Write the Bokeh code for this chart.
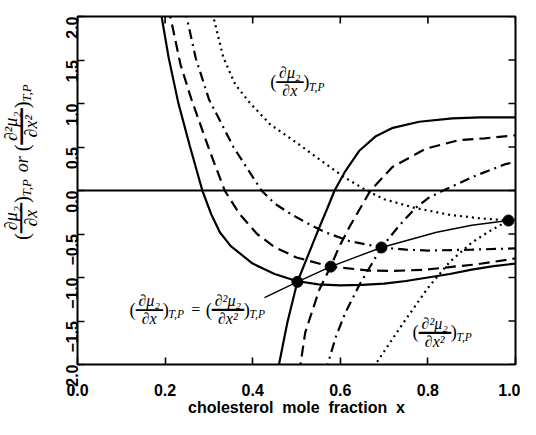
import math
from bokeh.plotting import figure
from bokeh.models import Span, Label
from bokeh.layouts import row
from bokeh.embed import file_html
from bokeh.resources import INLINE

# ---------------- data ----------------
x_ticks = [0.0, 0.2, 0.4, 0.6, 0.8, 1.0]
x_tick_labels = ["0.0", "0.2", "0.4", "0.6", "0.8", "1.0"]
y_ticks = [-2.0, -1.5, -1.0, -0.5, 0.0, 0.5, 1.0, 1.5, 2.0]
y_tick_labels = ["\u22122.0", "\u22121.5", "\u22121.0", "\u22120.5", "0.0", "0.5", "1.0", "1.5", "2.0"]

# first derivative (d mu2 / dx) at four temperatures
d1_solid_x = [0.188, 0.192, 0.208, 0.230, 0.256, 0.285, 0.305, 0.325, 0.35, 0.40, 0.45, 0.50, 0.55, 0.60, 0.65, 0.70, 0.75, 0.80, 0.85, 0.90, 0.95, 1.0]
d1_solid_y = [2.1, 2.0, 1.53, 1.01, 0.52, 0.0, -0.27, -0.48, -0.64, -0.84, -0.96, -1.04, -1.08, -1.09, -1.085, -1.07, -1.04, -1.0, -0.96, -0.91, -0.87, -0.84]

d1_dashed_x = [0.208, 0.212, 0.235, 0.26, 0.30, 0.336, 0.37, 0.41, 0.45, 0.50, 0.578, 0.667, 0.72, 0.795, 0.85, 0.909, 0.95, 1.0]
d1_dashed_y = [2.1, 2.0, 1.45, 1.05, 0.48, 0.0, -0.27, -0.50, -0.65, -0.77, -0.875, -0.92, -0.925, -0.91, -0.88, -0.85, -0.82, -0.78]

d1_dashdot_x = [0.245, 0.249, 0.27, 0.30, 0.356, 0.42, 0.45, 0.49, 0.53, 0.566, 0.62, 0.694, 0.75, 0.80, 0.90, 1.0]
d1_dashdot_y = [2.1, 2.0, 1.52, 1.05, 0.50, 0.0, -0.15, -0.28, -0.39, -0.48, -0.58, -0.655, -0.68, -0.69, -0.68, -0.665]

d1_dotted_x = [0.306, 0.31, 0.333, 0.36, 0.393, 0.44, 0.50, 0.56, 0.61, 0.66, 0.70, 0.77, 0.85, 0.92, 0.984]
d1_dotted_y = [2.1, 2.0, 1.53, 1.22, 1.01, 0.76, 0.55, 0.33, 0.15, 0.0, -0.1, -0.2, -0.28, -0.32, -0.345]

# second derivative (d2 mu2 / dx2) at the same four temperatures
d2_solid_x = [0.455, 0.46, 0.479, 0.502, 0.53, 0.55, 0.57, 0.587, 0.61, 0.644, 0.68, 0.72, 0.78, 0.856, 0.92, 1.0]
d2_solid_y = [-2.1, -2.0, -1.52, -1.05, -0.70, -0.45, -0.21, 0.0, 0.21, 0.46, 0.62, 0.72, 0.79, 0.83, 0.84, 0.84]

d2_dashed_x = [0.505, 0.509, 0.52, 0.552, 0.578, 0.598, 0.623, 0.669, 0.719, 0.795, 0.872, 0.93, 1.0]
d2_dashed_y = [-2.1, -2.0, -1.63, -1.14, -0.875, -0.64, -0.40, 0.0, 0.27, 0.48, 0.58, 0.60, 0.635]

d2_dashdot_x = [0.567, 0.571, 0.59, 0.612, 0.644, 0.694, 0.735, 0.772, 0.80, 0.835, 0.87, 0.909, 0.975, 1.0]
d2_dashdot_y = [-2.1, -2.0, -1.68, -1.40, -1.08, -0.655, -0.40, -0.2, -0.09, 0.0, 0.08, 0.17, 0.30, 0.33]

d2_dotted_x = [0.676, 0.68, 0.74, 0.80, 0.85, 0.90, 0.94, 0.984]
d2_dotted_y = [-2.1, -2.0, -1.55, -1.12, -0.82, -0.60, -0.47, -0.345]

# locus where first derivative equals second derivative
locus_x = [0.427, 0.502, 0.578, 0.694, 0.82, 0.90, 0.984, 1.02]
locus_y = [-1.23, -1.05, -0.875, -0.655, -0.48, -0.40, -0.345, -0.33]
points_x = [0.502, 0.578, 0.694, 0.984]
points_y = [-1.05, -0.875, -0.655, -0.345]

# ---------------- layout ----------------
SANS = "Liberation Sans"
SERIF = "Liberation Serif"
H = 419
STRIP_W = 48

p = figure(width=520 - STRIP_W, height=H, x_range=(0, 1), y_range=(-2, 2),
           output_backend="svg", toolbar_location=None,
           min_border_left=77 - STRIP_W, min_border_right=5, min_border_top=16, min_border_bottom=55)
p.background_fill_color = "white"
p.border_fill_color = "white"
p.grid.visible = False
p.outline_line_color = "black"
p.outline_line_width = 2
p.outline_line_alpha = 1

p.xaxis.ticker = x_ticks
p.xaxis.major_label_overrides = {v: s for v, s in zip(x_ticks, x_tick_labels)}
p.yaxis.ticker = y_ticks
p.yaxis.major_label_overrides = {v: s for v, s in zip(y_ticks, y_tick_labels)}
p.yaxis.major_label_orientation = math.pi / 2
for ax in (p.xaxis[0], p.yaxis[0]):
    ax.axis_line_color = None
    ax.major_tick_in = 7
    ax.major_tick_out = 0
    ax.major_tick_line_width = 1.6
    ax.minor_tick_line_color = None
    ax.major_label_text_font = SANS
    ax.major_label_text_font_style = "bold"
    ax.major_label_text_font_size = "16px"
    ax.major_label_text_color = "black"
p.xaxis.major_label_standoff = 19
p.yaxis.major_label_standoff = 6
p.xaxis.axis_label = "cholesterol\u00a0\u00a0mole\u00a0\u00a0fraction\u00a0\u00a0x"
p.xaxis.axis_label_text_font = SANS
p.xaxis.axis_label_text_font_style = "bold"
p.xaxis.axis_label_text_font_size = "16px"
p.xaxis.axis_label_text_color = "black"
p.xaxis.axis_label_standoff = 0

# inward ticks on the right and top edges (half of each dash is clipped by the frame)
p.scatter([1.0] * len(y_ticks), y_ticks, marker="dash", size=14, line_color="black", line_width=1.6)
p.scatter(x_ticks, [2.0] * len(x_ticks), marker="dash", angle=math.pi / 2, size=14,
          line_color="black", line_width=1.6)

p.add_layout(Span(location=0, dimension="width", line_color="black", line_width=1.8))

LW = 2.2
p.line(d1_solid_x, d1_solid_y, line_color="black", line_width=LW)
p.line(d1_dashed_x, d1_dashed_y, line_color="black", line_width=LW, line_dash="11 6")
p.line(d1_dashdot_x, d1_dashdot_y, line_color="black", line_width=LW, line_dash="10 5 2 5")
p.line(d1_dotted_x, d1_dotted_y, line_color="black", line_width=LW, line_dash="2 4")
p.line(d2_solid_x, d2_solid_y, line_color="black", line_width=LW)
p.line(d2_dashed_x, d2_dashed_y, line_color="black", line_width=LW, line_dash="11 6")
p.line(d2_dashdot_x, d2_dashdot_y, line_color="black", line_width=LW, line_dash="10 5 2 5")
p.line(d2_dotted_x, d2_dotted_y, line_color="black", line_width=LW, line_dash="2 4")
p.line(locus_x, locus_y, line_color="black", line_width=1.4)
p.scatter(points_x, points_y, size=11, color="black")

# strip on the left holding the rotated y-axis title (1 data unit = 1 px)
strip = figure(width=STRIP_W, height=H, x_range=(0, STRIP_W), y_range=(0, H),
               output_backend="svg", toolbar_location=None,
               x_axis_location=None, y_axis_location=None, min_border=0)
strip.outline_line_color = None
strip.grid.visible = False
strip.background_fill_color = "white"
strip.border_fill_color = "white"

# ---------------- math-like labels built from text pieces ----------------
def put(fig, x, y, s, t, text, fs, angle, style="italic", align="left", font=SERIF):
    ca, sa = math.cos(angle), math.sin(angle)
    fig.add_layout(Label(x=x, y=y, x_offset=s * ca - t * sa, y_offset=s * sa + t * ca,
                         text=text, angle=angle, text_font=font,
                         text_font_size=f"{fs:.1f}px", text_font_style=style,
                         text_align=align, text_baseline="middle", text_color="black"))

def math_row(fig, x, y, items, fs, angle=0.0):
    s = 0.0
    for it in items:
        if it[0] == "frac":
            _, num, den, sub, wf = it
            put(fig, x, y, s, 0.0, "(", fs * 1.15, angle, style="normal")
            s += 0.38 * fs
            c = s + wf / 2
            put(fig, x, y, c, 0.58 * fs, num, fs, angle, align="center")
            put(fig, x, y, c, -0.55 * fs, den, fs, angle, align="center")
            put(fig, x, y, c, 0.0, "\u2500\u2500", wf / (2 * 0.602), angle, style="normal",
                align="center", font="DejaVu Sans")
            s += wf
            put(fig, x, y, s, 0.0, ")", fs * 1.15, angle, style="normal")
            s += 0.36 * fs
            put(fig, x, y, s, -0.3 * fs, sub, 0.72 * fs, angle)
            s += 1.5 * 0.72 * fs
        else:
            _, txt, w, st = it
            put(fig, x, y, s + w / 2, 0.0, txt, fs, angle, style=st, align="center")
            s += w

F1 = ("frac", "\u2202\u03bc\u2082", "\u2202x", "T,P", 27)
F2 = ("frac", "\u2202\u00b2\u03bc\u2082", "\u2202x\u00b2", "T,P", 32)
F1b = ("frac", "\u2202\u03bc\u2082", "\u2202x", "T,P", 30)
F2b = ("frac", "\u2202\u00b2\u03bc\u2082", "\u2202x\u00b2", "T,P", 36)

math_row(p, 0.44, 1.25, [F1], 16)
math_row(p, 0.765, -1.63, [F2], 16)
math_row(p, 0.119, -1.37, [F1, ("text", "=", 20, "normal"), F2], 16)
math_row(strip, 21, H - (277 - 8), [F1b, ("text", "or", 26, "italic"), F2b], 18, angle=math.pi / 2)

layout = row(strip, p, spacing=0)
open("out.html", "w").write(file_html(layout, INLINE))
